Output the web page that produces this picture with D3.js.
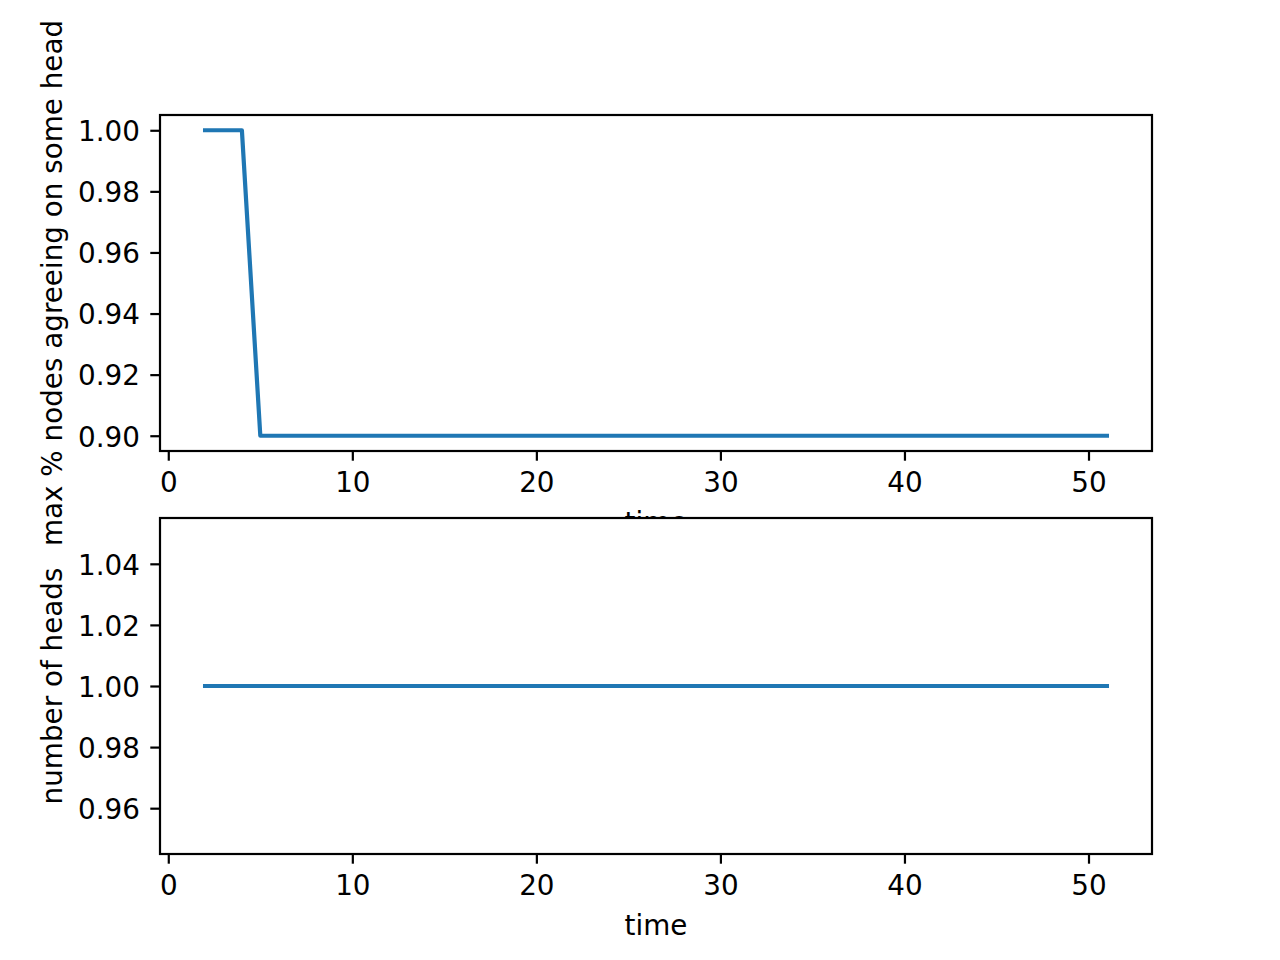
<!DOCTYPE html>
<html>
<head>
<meta charset="utf-8">
<script src="https://cdn.jsdelivr.net/npm/d3@7"></script>
<style>
  html, body { margin: 0; padding: 0; background: #fff; }
  svg { display: block; }
  text { font-family: "DejaVu Sans", sans-serif; }
</style>
</head>
<body>
<svg id="chart" width="1280" height="960"></svg>
<script>
// ---- data ----
const time = [2,3,4,5,6,7,8,9,10,11,12,13,14,15,16,17,18,19,20,21,22,23,24,25,26,27,28,29,30,31,32,33,34,35,36,37,38,39,40,41,42,43,44,45,46,47,48,49,50,51];
const maxAgree = [1.0,1.0,1.0,0.9,0.9,0.9,0.9,0.9,0.9,0.9,0.9,0.9,0.9,0.9,0.9,0.9,0.9,0.9,0.9,0.9,0.9,0.9,0.9,0.9,0.9,0.9,0.9,0.9,0.9,0.9,0.9,0.9,0.9,0.9,0.9,0.9,0.9,0.9,0.9,0.9,0.9,0.9,0.9,0.9,0.9,0.9,0.9,0.9,0.9,0.9];
const numHeads = [1,1,1,1,1,1,1,1,1,1,1,1,1,1,1,1,1,1,1,1,1,1,1,1,1,1,1,1,1,1,1,1,1,1,1,1,1,1,1,1,1,1,1,1,1,1,1,1,1,1];
const xTicks = [0,10,20,30,40,50];
const yTicksTop = [0.90,0.92,0.94,0.96,0.98,1.00];
const yTicksBottom = [0.96,0.98,1.00,1.02,1.04];
const xLabel = "time";
const yLabelTop = "max % nodes agreeing on some head";
const yLabelBottom = "number of heads";

// ---- layout ----
const svg = d3.select("#chart");
const L = 160, R = 1152;
const panels = [
  {top: 115, bottom: 451, y: maxAgree, ydom: [0.895, 1.005], yticks: yTicksTop, ylabel: yLabelTop},
  {top: 518, bottom: 854, y: numHeads, ydom: [0.945, 1.055], yticks: yTicksBottom, ylabel: yLabelBottom}
];
const FS = 27.8;
const color = "#1f77b4";
const x = d3.scaleLinear().domain([-0.45, 53.45]).range([L, R]);

panels.forEach((p, i) => {
  const g = svg.append("g");
  // white axes background (covers previous panel's xlabel)
  g.append("rect").attr("x", L).attr("y", p.top).attr("width", R - L).attr("height", p.bottom - p.top).attr("fill", "#fff");
  const y = d3.scaleLinear().domain(p.ydom).range([p.bottom, p.top]);

  // line
  const line = d3.line().x((d, j) => x(time[j])).y(d => y(d));
  g.append("path").datum(p.y).attr("d", line)
    .attr("fill", "none").attr("stroke", color).attr("stroke-width", 4.2)
    .attr("stroke-linejoin", "round").attr("stroke-linecap", "square");

  // x axis
  const xa = g.append("g").attr("transform", `translate(0,${p.bottom})`)
    .call(d3.axisBottom(x).tickValues(xTicks).tickFormat(d3.format("d")).tickSize(9.7).tickSizeOuter(0).tickPadding(11.6));
  // y axis
  const ya = g.append("g").attr("transform", `translate(${L},0)`)
    .call(d3.axisLeft(y).tickValues(p.yticks).tickFormat(d3.format(".2f")).tickSize(9.7).tickSizeOuter(0).tickPadding(10.3));
  [xa, ya].forEach(a => {
    a.select(".domain").remove();
    a.selectAll(".tick line").attr("stroke", "#000").attr("stroke-width", 2.2);
    a.selectAll(".tick text").attr("fill", "#000").style("font-size", FS + "px").style("font-family", "'DejaVu Sans', sans-serif");
  });
  ya.selectAll(".tick text").attr("dy", "0.37em");

  // spines
  g.append("rect").attr("x", L).attr("y", p.top).attr("width", R - L).attr("height", p.bottom - p.top)
    .attr("fill", "none").attr("stroke", "#000").attr("stroke-width", 2.2);

  // x label
  g.append("text").attr("x", (L + R) / 2).attr("y", p.bottom + 81)
    .attr("text-anchor", "middle").style("font-size", FS + "px").attr("fill", "#000").text(xLabel);
  // y label
  const cy = (p.top + p.bottom) / 2;
  g.append("text").attr("transform", `translate(61.5,${cy}) rotate(-90)`)
    .attr("text-anchor", "middle").style("font-size", FS + "px").attr("fill", "#000").text(p.ylabel);
});
</script>
</body>
</html>
